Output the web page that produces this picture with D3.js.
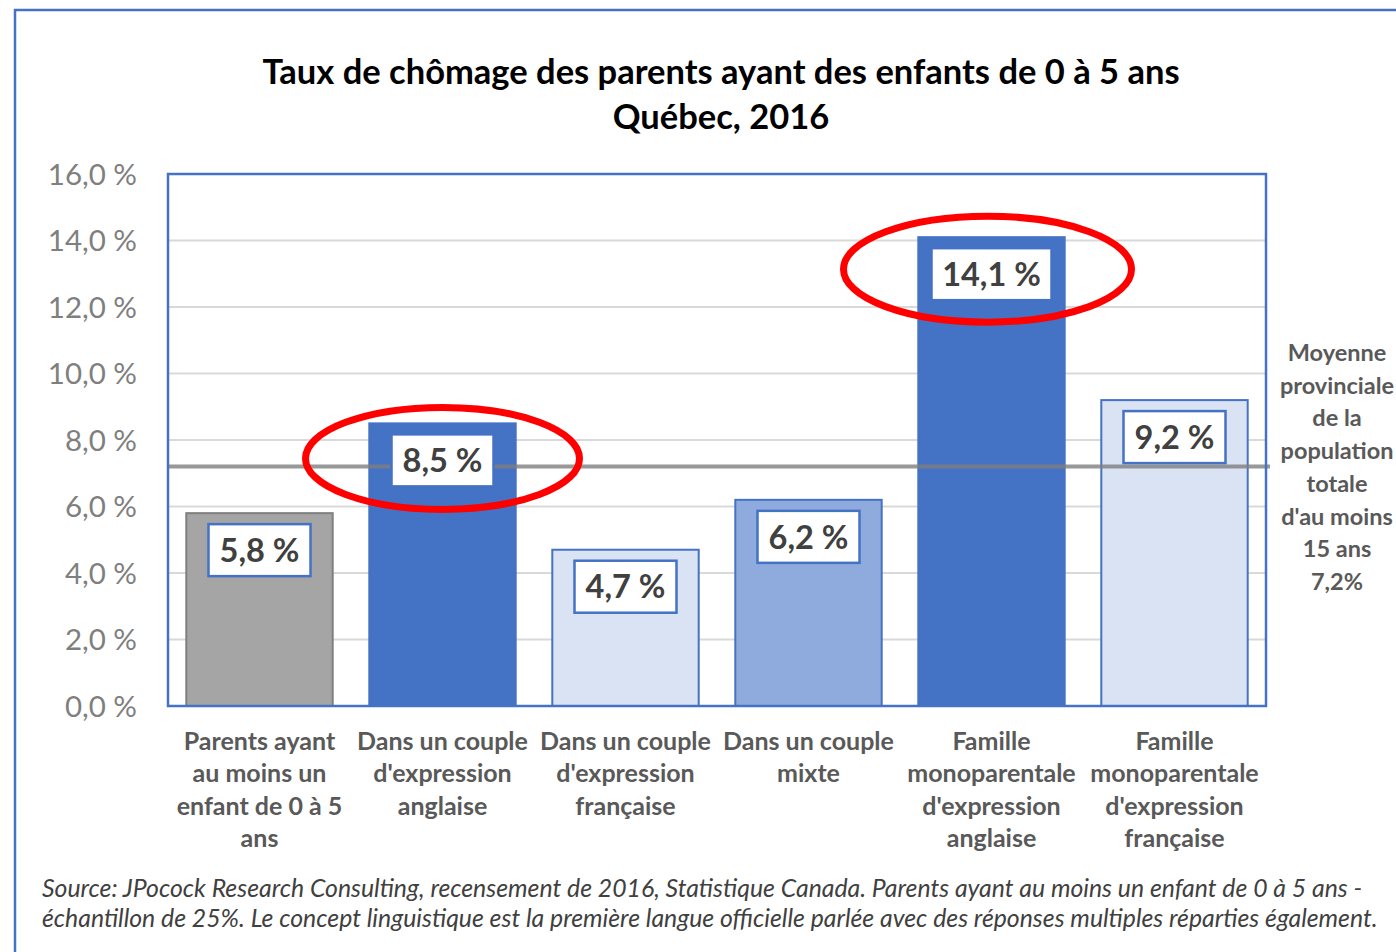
<!DOCTYPE html>
<html>
<head>
<meta charset="utf-8">
<script src="https://cdn.jsdelivr.net/npm/d3@7"></script>
<style>
  body { margin: 0; background: #fff; }
  text { font-family: Lato, "Open Sans", sans-serif; }
</style>
</head>
<body>
<div id="main"></div>
<script>
const ctx = {
    w: 1396,
    h: 952,
    left: 168, right: 1266, top: 174, bottom: 706,
};

// data
const categories = [
    ["Parents ayant", "au moins un", "enfant de 0 à 5", "ans"],
    ["Dans un couple", "d'expression", "anglaise"],
    ["Dans un couple", "d'expression", "française"],
    ["Dans un couple", "mixte"],
    ["Famille", "monoparentale", "d'expression", "anglaise"],
    ["Famille", "monoparentale", "d'expression", "française"],
];
const rates = [5.8, 8.5, 4.7, 6.2, 14.1, 9.2];
const fills = ["#a5a5a5", "#4472c4", "#dae3f3", "#8faadc", "#4472c4", "#dae3f3"];
const strokes = ["#7f7f7f", "#4472c4", "#4472c4", "#4472c4", "#4472c4", "#4472c4"];
const highlighted = [1, 4];
const yTicks = [0, 2, 4, 6, 8, 10, 12, 14, 16];
const provincialAvg = 7.2;
const avgLabel = ["Moyenne", "provinciale", "de la", "population", "totale", "d'au moins", "15 ans", "7,2%"];
const titleLines = ["Taux de chômage des parents ayant des enfants de 0 à 5 ans", "Québec, 2016"];
const sourceLines = [
    "Source: JPocock Research Consulting, recensement de 2016, Statistique Canada. Parents ayant au moins un enfant de 0 à 5 ans -",
    "échantillon de 25%. Le concept linguistique est la première langue officielle parlée avec des réponses multiples réparties également.",
];

const fmt = (v) => v.toFixed(1).replace(".", ",") + " %";

function createViz(){
    let svg = d3.select("#main").append("svg")
        .attr("width", ctx.w).attr("height", ctx.h);

    // outer frame
    svg.append("path")
       .attr("d", `M15,${ctx.h} L15,10 L${ctx.w},10`)
       .attr("fill", "none").attr("stroke", "#4472c4").attr("stroke-width", 2.5);

    ctx.xScale = d3.scaleBand().domain(d3.range(rates.length))
                   .range([ctx.left, ctx.right]).paddingInner(0.2).paddingOuter(0.1);
    ctx.yScale = d3.scaleLinear().domain([0, 16]).range([ctx.bottom, ctx.top]);

    // title
    svg.append("g").selectAll("text").data(titleLines).enter().append("text")
       .attr("x", 721).attr("y", (d, i) => 84 + i * 45)
       .attr("text-anchor", "middle")
       .style("font-size", "34.5px").style("font-weight", "bold").style("fill", "#000")
       .text(d => d);

    // gridlines
    svg.append("g").selectAll("line").data(yTicks.slice(1)).enter().append("line")
       .attr("x1", ctx.left).attr("x2", ctx.right)
       .attr("y1", d => ctx.yScale(d)).attr("y2", d => ctx.yScale(d))
       .style("stroke", "#d9d9d9").style("stroke-width", 2);

    // y axis
    let yAxis = svg.append("g")
       .attr("transform", "translate(137,0)")
       .call(d3.axisLeft(ctx.yScale).tickValues(yTicks).tickFormat(fmt).tickSize(0));
    yAxis.select(".domain").remove();
    yAxis.selectAll("text")
       .attr("x", 0).attr("dy", "0.35em")
       .style("font-size", "29.5px").style("fill", "#7f7f7f")
       .style("font-family", "Lato, sans-serif");

    // bars
    svg.append("g").selectAll("rect").data(rates).enter().append("rect")
       .attr("x", (d, i) => ctx.xScale(i))
       .attr("y", d => ctx.yScale(d))
       .attr("width", ctx.xScale.bandwidth())
       .attr("height", d => ctx.yScale(0) - ctx.yScale(d))
       .attr("fill", (d, i) => fills[i])
       .attr("stroke", (d, i) => strokes[i]).attr("stroke-width", 2);

    // provincial average line
    svg.append("line")
       .attr("x1", ctx.left).attr("x2", ctx.right + 4)
       .attr("y1", ctx.yScale(provincialAvg)).attr("y2", ctx.yScale(provincialAvg))
       .style("stroke", "#7f7f7f").style("stroke-width", 4).style("opacity", 0.8);

    // plot border
    svg.append("rect")
       .attr("x", ctx.left).attr("y", ctx.top)
       .attr("width", ctx.right - ctx.left).attr("height", ctx.bottom - ctx.top)
       .attr("fill", "none").attr("stroke", "#4472c4").attr("stroke-width", 2.5);

    // value labels
    let lbl = svg.append("g").selectAll("g").data(rates).enter().append("g")
       .attr("transform", (d, i) => `translate(${ctx.xScale(i) + ctx.xScale.bandwidth() / 2},${ctx.yScale(d) + 37})`);
    lbl.append("rect")
       .attr("x", d => d >= 10 ? -60 : -51).attr("y", -26)
       .attr("width", d => d >= 10 ? 120 : 102).attr("height", 52)
       .attr("fill", "#fff").attr("stroke", "#4472c4").attr("stroke-width", 2.5);
    lbl.append("text")
       .attr("text-anchor", "middle").attr("dy", "0.36em")
       .style("font-size", "32.5px").style("font-weight", "bold").style("fill", "#404040")
       .text(fmt);

    // highlight ellipses
    svg.append("g").selectAll("ellipse").data(highlighted).enter().append("ellipse")
       .attr("cx", i => ctx.xScale(i) + ctx.xScale.bandwidth() / 2 - (rates[i] >= 10 ? 4 : 0))
       .attr("cy", i => ctx.yScale(rates[i]) + (rates[i] >= 10 ? 32 : 35))
       .attr("rx", i => rates[i] >= 10 ? 144 : 137)
       .attr("ry", i => rates[i] >= 10 ? 53 : 51)
       .attr("fill", "none").attr("stroke", "#ff0000").attr("stroke-width", 7);

    // category labels
    let xl = svg.append("g").selectAll("text").data(categories).enter().append("text")
       .attr("x", (d, i) => ctx.xScale(i) + ctx.xScale.bandwidth() / 2)
       .attr("y", 750)
       .attr("text-anchor", "middle")
       .style("font-size", "25px").style("font-weight", "bold").style("fill", "#595959");
    xl.selectAll("tspan").data(d => d).enter().append("tspan")
       .attr("x", function(){ return this.parentNode.getAttribute("x"); })
       .attr("dy", (d, i) => i === 0 ? 0 : 32.3)
       .text(d => d);

    // average annotation (kept just inside the right edge)
    svg.append("g").selectAll("text").data(avgLabel).enter().append("text")
       .attr("x", 1337).attr("y", (d, i) => 361 + i * 32.7)
       .attr("text-anchor", "middle")
       .style("font-size", "23.5px").style("font-weight", "bold").style("fill", "#595959")
       .text(d => d);

    // source
    svg.append("g").selectAll("text").data(sourceLines).enter().append("text")
       .attr("x", 42).attr("y", (d, i) => 897 + i * 30)
       .style("font-size", "24.8px").style("font-style", "italic").style("fill", "#404040")
       .text(d => d);
}

createViz();
</script>
</body>
</html>
